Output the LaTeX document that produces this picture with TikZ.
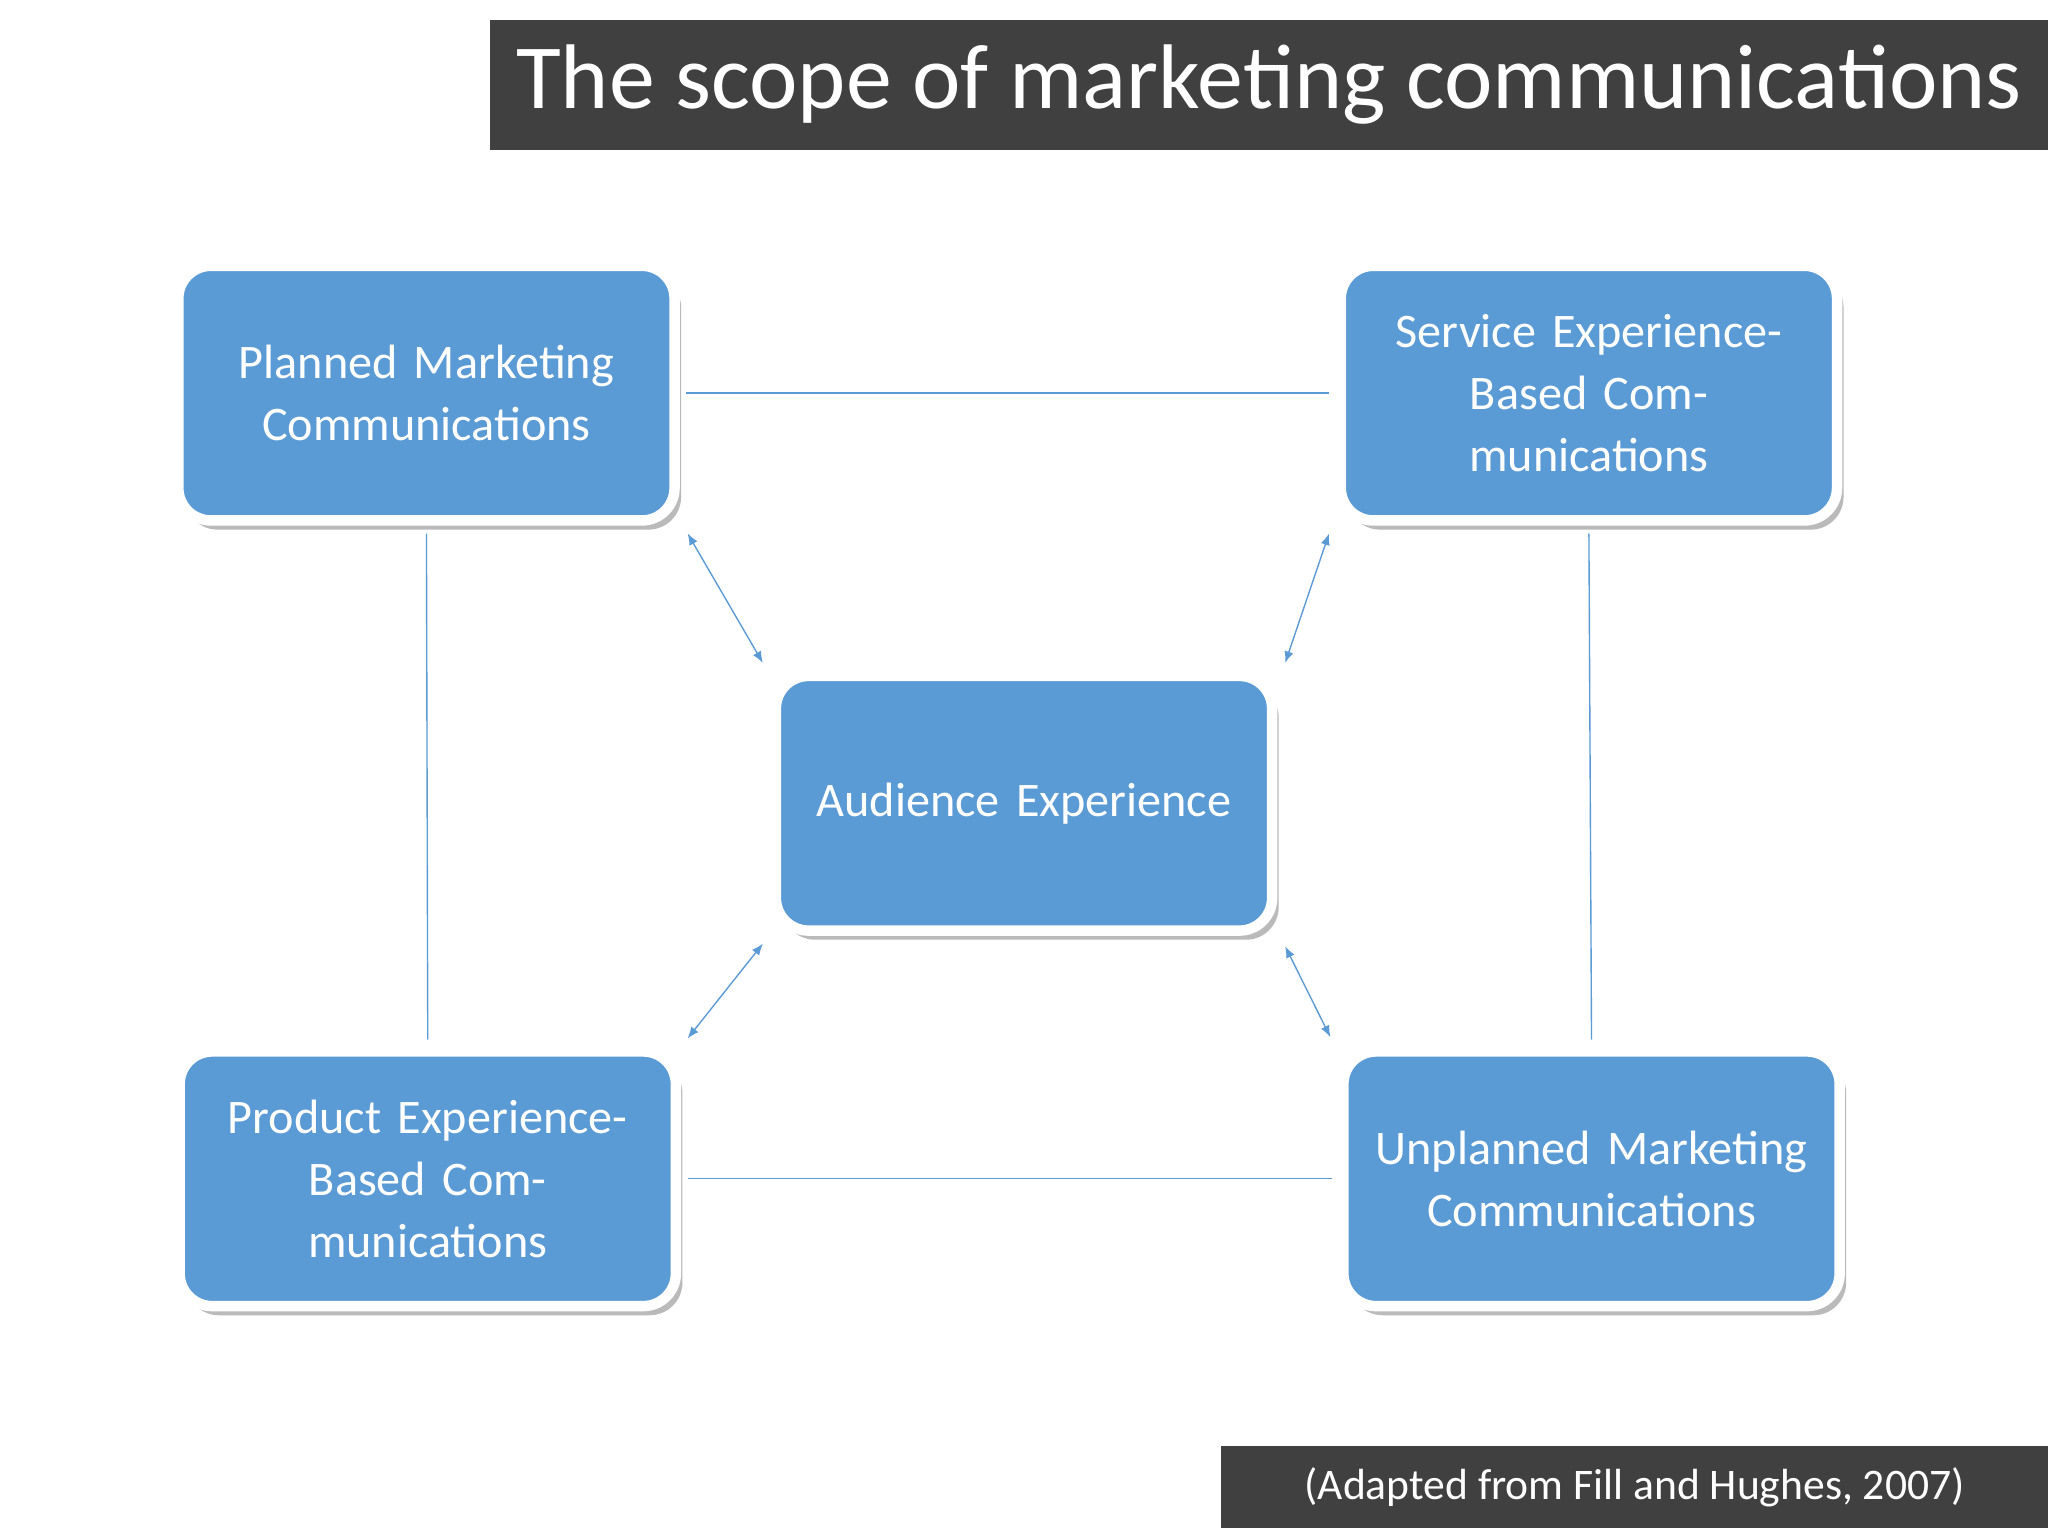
\documentclass[tikz,border=0pt]{standalone}
\usepackage{fontspec}
\setmainfont{Carlito}
\usetikzlibrary{shadows,arrows.meta}
\definecolor{boxblue}{HTML}{5B9BD5}
\definecolor{bar}{HTML}{404040}
\tikzset{
  bx/.style={rectangle, rounded corners=0.5cm, fill=boxblue, draw=white, line width=0.16cm,
    minimum width=7.6cm, minimum height=3.9cm, text width=7cm, align=center,
    font=\fontsize{21}{27}\selectfont, text=white,
    drop shadow={shadow xshift=0.1cm, shadow yshift=-0.14cm, fill=black!45, opacity=0.6}},
  ln/.style={draw=boxblue, line width=0.6pt},
  ar/.style={ln, {Latex[length=5pt,width=4pt]}-{Latex[length=5pt,width=4pt]}}
}
\begin{document}
\begin{tikzpicture}[x=0.02cm,y=-0.02cm]
\useasboundingbox (0,0) rectangle (1568,1176);
\fill[white] (0,0) rectangle (1568,1176);
\node[fill=bar, minimum width=23.86cm, minimum height=2cm, inner sep=0, text=white,
  font=\fontsize{40}{44}\selectfont\addfontfeatures{}] (T) at (971.5,65) {The scope of marketing communications};
\node[bx] (P) at (326.5,301) {Planned Marketing Communications};
\node[bx] (S) at (1216.5,301) {Service Experience-Based Communications};
\node[bx] (A) at (784,615) {Audience Experience};
\node[bx] (R) at (327.5,902.5) {Product Experience-Based Communications};
\node[bx] (U) at (1218.5,902.5) {Unplanned Marketing Communications};
\node[fill=bar, minimum width=12.66cm, minimum height=1.26cm, inner sep=0, text=white,
  font=\fontsize{19}{22}\selectfont] (F) at (1251.5,1138.5) {(Adapted from Fill and Hughes, 2007)};
\draw[ln] ([xshift=0.1cm]P.east) -- ([xshift=-0.1cm]S.west);
\draw[ln] ([xshift=0.1cm]R.east) -- ([xshift=-0.1cm]U.west);
\draw[ln] ([yshift=-0.12cm]P.south) -- ([yshift=0.1cm]R.north);
\draw[ln] ([yshift=-0.12cm]S.south) -- ([yshift=0.1cm]U.north);
\draw[ar] ([shift={(0.12cm,-0.12cm)}]P.south east) -- ([shift={(-0.12cm,0.12cm)}]A.north west);
\draw[ar] ([shift={(-0.1cm,-0.12cm)}]S.south west) -- ([shift={(0.12cm,0.12cm)}]A.north east);
\draw[ar] ([shift={(-0.12cm,-0.12cm)}]A.south west) -- ([shift={(0.1cm,0.12cm)}]R.north east);
\draw[ar] ([shift={(0.12cm,-0.16cm)}]A.south east) -- ([shift={(-0.12cm,0.14cm)}]U.north west);
\end{tikzpicture}
\end{document}
